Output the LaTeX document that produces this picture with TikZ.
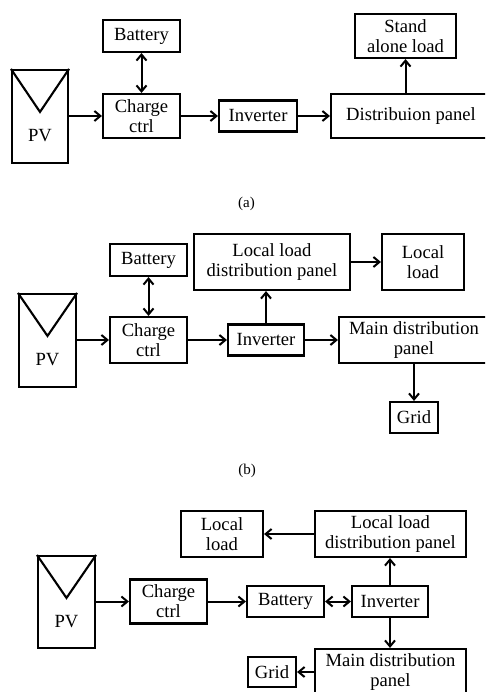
\documentclass[tikz,border=0pt]{standalone}
\usepackage{fontspec}
\setmainfont{Liberation Serif}
\usetikzlibrary{arrows.meta,calc}
\tikzset{
  box/.style={draw, line width=2.1pt, inner sep=0pt, align=center, font=\fontsize{18.6}{20}\selectfont},
  txt/.style={inner sep=0pt, font=\fontsize{18.6}{20}\selectfont},
  captxt/.style={inner sep=0pt, font=\fontsize{15}{17}\selectfont},
  tip/.style={},
  ar/.style={line width=2pt, -{Straight Barb[length=6pt,width=10pt,line width=2pt]}},
  dar/.style={line width=2pt, {Straight Barb[length=6pt,width=10pt,line width=2pt]}-{Straight Barb[length=6pt,width=10pt,line width=2pt]}},
  tri/.style={line width=2.1pt, line join=miter}
}
\begin{document}
\begin{tikzpicture}[x=1pt,y=1pt]
\path[use as bounding box, clip] (0,0) rectangle (485,-692);
\fill[white] (0,0) rectangle (485,-692);
% ---------- (a) ----------
\node[box, minimum width=56, minimum height=93] (pva) at (40,-116.5) {};
\draw[tri] (pva.north west) -- ($(pva.north)+(0,-43)$) -- (pva.north east);
\node[txt] (pvta) at ($(pva.north)+(0,-67)$) {PV};
\node[box, minimum width=77, minimum height=32] (bata) at (141.5,-36) {Battery};
\node[box, minimum width=77, minimum height=44] (cca) at (141.5,-116) {Charge\\ctrl};
\node[box, minimum width=78, minimum height=31] (inva) at (258,-116) {Inverter};
\node[box, minimum width=160, minimum height=44] (dpa) at (411,-116) {Distribuion panel};
\node[box, minimum width=101, minimum height=44] (saa) at (405.5,-36) {Stand\\alone load};
\draw[ar] (pva.east |- cca) -- (cca.west);
\draw[dar] (bata.south) -- (cca.north);
\draw[ar] (cca.east) -- (inva.west);
\draw[ar] (inva.east) -- (dpa.west);
\draw[ar] (saa.south |- dpa.north) -- (saa.south);
\node[captxt] (capa) at (246.5,-203.5) {(a)};
% ---------- (b) ----------
\node[box, minimum width=57, minimum height=93] (pvb) at (47.5,-340.5) {};
\draw[tri] (pvb.north west) -- ($(pvb.north)+(0,-43)$) -- (pvb.north east);
\node[txt] (pvtb) at ($(pvb.north)+(0,-67)$) {PV};
\node[box, minimum width=77, minimum height=32] (batb) at (148.5,-260) {Battery};
\node[box, minimum width=77, minimum height=46] (ccb) at (148.5,-340) {Charge\\ctrl};
\node[box, minimum width=76, minimum height=31] (invb) at (266,-340) {Inverter};
\node[box, minimum width=156, minimum height=56] (lldpb) at (272,-262) {Local load\\distribution panel};
\node[box, minimum width=82, minimum height=56] (llb) at (423,-262) {Local\\load};
\node[box, minimum width=150, minimum height=46] (mdpb) at (414,-340) {Main distribution\\panel};
\node[box, minimum width=48, minimum height=31] (gridb) at (414,-417.5) {Grid};
\draw[ar] (pvb.east |- ccb) -- (ccb.west);
\draw[dar] (batb.south) -- (ccb.north);
\draw[ar] (ccb.east) -- (invb.west);
\draw[ar] (invb.east) -- (mdpb.west);
\draw[ar] (invb.north) -- (invb.north |- lldpb.south);
\draw[ar] (lldpb.east) -- (llb.west);
\draw[ar] (gridb.north |- mdpb.south) -- (gridb.north);
\node[captxt] (capb) at (247,-471) {(b)};
% ---------- (c) ----------
\node[box, minimum width=57, minimum height=92] (pvc) at (66.5,-602) {};
\draw[tri] (pvc.north west) -- ($(pvc.north)+(0,-43)$) -- (pvc.north east);
\node[txt] (pvtc) at ($(pvc.north)+(0,-67)$) {PV};
\node[box, minimum width=77, minimum height=44] (ccc) at (168.5,-601.5) {Charge\\ctrl};
\node[box, minimum width=77, minimum height=31] (batc) at (285.5,-601.5) {Battery};
\node[box, minimum width=76, minimum height=31] (invc) at (390,-601.5) {Inverter};
\node[box, minimum width=82, minimum height=46] (llc) at (222,-534) {Local\\load};
\node[box, minimum width=151, minimum height=46] (lldpc) at (390.5,-534) {Local load\\distribution panel};
\node[box, minimum width=151, minimum height=46] (mdpc) at (390.5,-672) {Main distribution\\panel};
\node[box, minimum width=48, minimum height=30] (gridc) at (272,-672) {Grid};
\draw[ar] (pvc.east |- ccc) -- (ccc.west);
\draw[ar] (ccc.east) -- (batc.west);
\draw[dar] (batc.east) -- (invc.west);
\draw[ar] (invc.north) -- (invc.north |- lldpc.south);
\draw[ar] (lldpc.west) -- (llc.east);
\draw[ar] (invc.south) -- (invc.south |- mdpc.north);
\draw[ar] (mdpc.west) -- (gridc.east);
\end{tikzpicture}
\end{document}
